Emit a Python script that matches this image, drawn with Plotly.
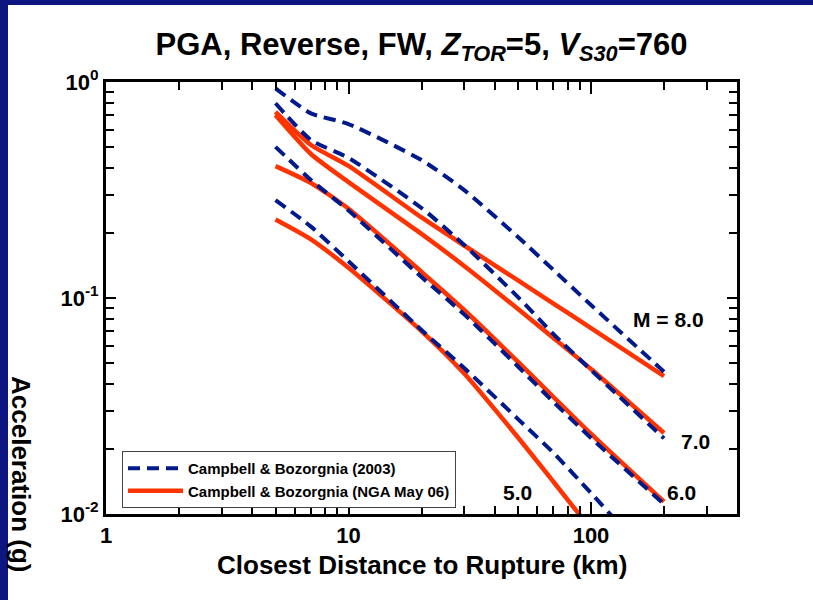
import plotly.graph_objects as go

# Closest distance to rupture (km) at which each curve is evaluated
distance_km = [5, 7, 10, 20, 30, 50, 70, 100, 200]

# Campbell & Bozorgnia (NGA May 06) PGA (g)
nga_m5 = [0.231, 0.187, 0.138, 0.0703, 0.0447, 0.0226, 0.0141, 0.0085, 0.0032]
nga_m6 = [0.408, 0.341, 0.259, 0.132, 0.0880, 0.0506, 0.0348, 0.0235, 0.0114]
nga_m7 = [0.703, 0.464, 0.344, 0.198, 0.1407, 0.0889, 0.0653, 0.0469, 0.0237]
nga_m8 = [0.727, 0.511, 0.409, 0.236, 0.175, 0.1206, 0.0942, 0.0726, 0.0435]

# Campbell & Bozorgnia (2003) PGA (g)
cb03_m5 = [0.284, 0.214, 0.148, 0.0711, 0.0474, 0.0275, 0.0192, 0.0125, 0.0053]
cb03_m6 = [0.501, 0.352, 0.254, 0.125, 0.0840, 0.0482, 0.0330, 0.0225, 0.0111]
cb03_m7 = [0.797, 0.539, 0.445, 0.261, 0.176, 0.101, 0.0681, 0.0464, 0.0224]
cb03_m8 = [0.935, 0.716, 0.639, 0.435, 0.316, 0.1915, 0.1348, 0.0928, 0.0456]

magnitude_labels = ["5.0", "6.0", "7.0", "M = 8.0"]

RED = "#FF3300"
NAVY = "#001A8C"
STRIP = "#0C1580"
FONT = "Liberation Sans, Arial, Helvetica, sans-serif"

fig = go.Figure()

nga_sets = [nga_m5, nga_m6, nga_m7, nga_m8]
cb03_sets = [cb03_m5, cb03_m6, cb03_m7, cb03_m8]

for i, ys in enumerate(nga_sets):
    fig.add_trace(go.Scatter(
        x=distance_km, y=ys, mode="lines",
        line=dict(color=RED, width=4.5, shape="spline", smoothing=0.6),
        name="<b>Campbell & Bozorgnia (NGA May 06)</b>",
        legendgroup="nga", showlegend=(i == 0), legendrank=2,
    ))

for i, ys in enumerate(cb03_sets):
    fig.add_trace(go.Scatter(
        x=distance_km, y=ys, mode="lines",
        line=dict(color=NAVY, width=4, dash="12px,7px", shape="spline", smoothing=0.6),
        name="<b>Campbell & Bozorgnia (2003)</b>",
        legendgroup="cb03", showlegend=(i == 0), legendrank=1,
    ))

# plot area geometry in pixels (for positioning text in paper units)
L, R, T, B = 106, 737, 82, 514
W, H = R - L, B - T


def px(xp):
    return (xp - L) / W


def py(yp):
    return (B - yp) / H


label_pos = [(517, 492), (681, 492), (695, 441), (668, 319)]
annotations = []
for text, (ax, ay) in zip(magnitude_labels, label_pos):
    annotations.append(dict(
        text="<b>%s</b>" % text, xref="paper", yref="paper",
        x=px(ax), y=py(ay), xanchor="center", yanchor="middle",
        showarrow=False, font=dict(family=FONT, size=21, color="black"),
    ))

annotations.append(dict(
    text="<b>Closest Distance to Rupture (km)</b>", xref="paper", yref="paper",
    x=px(422), y=py(565), xanchor="center", yanchor="middle",
    showarrow=False, font=dict(family=FONT, size=26, color="black"),
))
annotations.append(dict(
    text="<b>Acceleration (g)</b>", xref="paper", yref="paper",
    x=px(21), y=py(474), xanchor="center", yanchor="middle", textangle=90,
    showarrow=False, font=dict(family=FONT, size=26, color="black"),
))

shapes = [
    # dark frame strips along the left and top edges
    dict(type="rect", xref="paper", yref="paper",
         x0=px(0), x1=px(8), y0=py(600), y1=py(0),
         fillcolor=STRIP, line=dict(width=0), layer="below"),
    dict(type="rect", xref="paper", yref="paper",
         x0=px(0), x1=px(813), y0=py(5), y1=py(0),
         fillcolor=STRIP, line=dict(width=0), layer="below"),
]

axis_common = dict(
    type="log", showgrid=False, zeroline=False,
    showline=True, linecolor="black", linewidth=3, mirror="ticks",
    ticks="inside", tickcolor="black", tickwidth=2,
)

fig.update_layout(
    width=813, height=600,
    margin=dict(l=L, r=813 - R, t=T, b=600 - B),
    paper_bgcolor="white", plot_bgcolor="white",
    title=dict(
        text="<b>PGA, Reverse, FW, <i>Z</i><sub><i>TOR</i></sub>=5, "
             "<i>V</i><sub><i>S30</i></sub>=760</b>",
        x=(L + R) / 2 / 813, xanchor="center", xref="container",
        y=1 - 44 / 600, yanchor="middle", yref="container",
        font=dict(family=FONT, size=31, color="black"),
    ),
    xaxis=dict(
        **axis_common,
        range=[0, 2.602],
        tickvals=[1, 10, 100], ticktext=["<b>1</b>", "<b>10</b>", "<b>100</b>"],
        ticklen=12,
        tickfont=dict(family=FONT, size=22, color="black"),
        minor=dict(ticks="inside", ticklen=8, tickwidth=2, tickcolor="black",
                   tickvals=[2, 3, 4, 5, 6, 7, 8, 9, 20, 30, 40, 50, 60, 70, 80, 90, 200, 300]),
    ),
    yaxis=dict(
        **axis_common,
        range=[-2, 0],
        tickvals=[0.01, 0.1, 1],
        ticktext=["<b>10<sup>-2</sup></b>", "<b>10<sup>-1</sup></b>", "<b>10<sup>0</sup></b>"],
        ticklen=10,
        tickfont=dict(family=FONT, size=22, color="black"),
        minor=dict(ticks="inside", ticklen=8, tickwidth=2, tickcolor="black",
                   tickvals=[0.02, 0.03, 0.04, 0.05, 0.06, 0.07, 0.08, 0.09,
                             0.2, 0.3, 0.4, 0.5, 0.6, 0.7, 0.8, 0.9]),
    ),
    legend=dict(
        x=px(122), y=py(451), xanchor="left", yanchor="top",
        bgcolor="white", bordercolor="#444", borderwidth=1,
        font=dict(family=FONT, size=15, color="black"),
        itemwidth=55, tracegroupgap=0,
    ),
    annotations=annotations,
    shapes=shapes,
)

fig.write_html("out.html")
